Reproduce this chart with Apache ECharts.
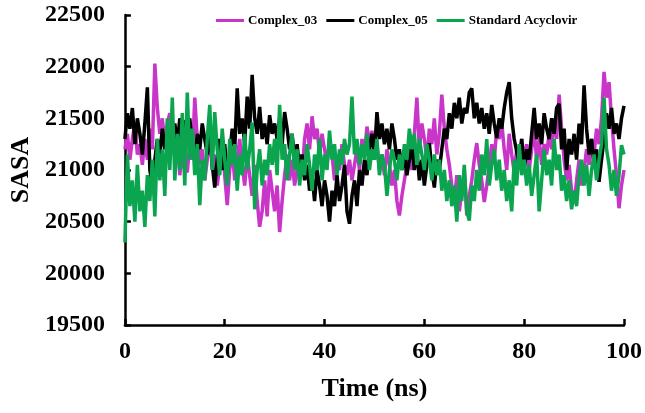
<!DOCTYPE html>
<html>
<head>
<meta charset="utf-8">
<script src="https://cdn.jsdelivr.net/npm/echarts@6/dist/echarts.min.js"></script>
<style>html,body{margin:0;padding:0;background:#fff}#c{width:645px;height:413px}</style>
</head>
<body>
<div id="c"></div>
<script>
const seriesNames = ['Complex_03', 'Complex_05', 'Standard Acyclovir'];
const seriesColors = ['#C935C9', '#000000', '#0BA550'];
const timeStep = 0.5;
const xTicks = [0, 20, 40, 60, 80, 100];
const yTicks = [19500, 20000, 20500, 21000, 21500, 22000, 22500];

const complex03 = [
21200,21350,21100,21300,21450,21150,21250,21050,21300,21100,
21400,21200,22030,21600,21350,21500,21250,21450,21550,21300,
21200,21350,20950,21150,21000,20980,21250,21100,21700,21300,
21050,21200,20900,21100,21350,21000,21150,20850,21050,21250,
20950,20660,21000,21200,20900,21100,21300,21050,20850,21150,
20950,20750,21050,20700,20450,20600,20900,20550,21000,20800,
20600,20850,20400,20700,20950,21150,20900,21100,20850,21000,
21150,20950,21300,21450,21200,21520,21300,21400,21150,21350,
21200,21050,21300,21150,20900,21100,21000,21250,21050,20950,
21100,20900,21050,21200,21000,21300,21150,21420,21250,21380,
21100,21250,21000,21150,20950,21200,21050,20850,21000,20700,
20560,20750,20900,21050,21200,21000,21350,21700,21200,21450,
21300,21100,21400,21250,21500,21150,21350,21730,21400,21200,
21050,20850,20700,20950,20600,20800,21000,20560,20750,20900,
21100,21260,21050,20900,20690,20850,21050,21250,21100,21400,
21300,21460,21200,21000,21350,21150,20980,21200,21050,21300,
21100,21250,21000,21200,21400,21100,21300,21050,21250,21150,
21350,21200,21500,21300,21730,21400,21100,20900,21050,20800,
20680,20900,21100,20850,21000,21200,21050,21300,21150,21400,
21250,21500,21950,21700,21850,21500,21200,20950,20630,20850,
21000];

const complex05 = [
21300,21550,21400,21600,21250,21500,21350,21150,21450,21800,
21000,20850,21100,21300,21150,21400,21200,21350,21100,21300,
21450,21250,21500,21350,21480,21300,21500,21250,21100,21350,
21200,21450,21300,21150,21400,21050,20830,21100,21300,21000,
21250,20950,21150,21400,21200,21790,21350,21500,21250,21710,
21400,21920,21500,21350,21610,21300,21450,21250,21530,21350,
21450,21300,21500,21250,21560,21400,21200,21350,21100,21250,
21000,21150,20900,21050,20800,20950,20700,21000,20850,20650,
20900,20750,20500,20800,20650,20950,20700,20850,21050,20600,
20480,20750,20900,20650,21000,20850,21100,20950,21200,21350,
21150,21560,21300,21450,21250,21400,21200,21450,21300,21100,
21200,21000,21150,20950,21100,21250,21000,21200,20900,21100,
20850,21050,21260,21000,20830,21100,21000,21200,21400,21300,
21550,21400,21650,21500,21700,21450,21600,21550,21750,21790,
21500,21650,21450,21600,21400,21550,21350,21630,21450,21310,
21500,21400,21600,21750,21850,21500,21300,21180,21050,21300,
21000,21200,21100,21350,21600,21300,21450,21250,21550,21400,
21300,21500,21350,21600,21640,21200,21400,21000,21300,21150,
21350,21100,21450,21250,21820,21400,21150,21300,21050,21200,
20885,21100,21300,21550,21400,21600,21350,21450,21300,21500,
21620];

const acyclovir = [
20300,21150,20650,20900,20500,21050,20600,20800,20450,20950,
20700,21100,20550,21300,20900,21200,20750,21500,21000,21700,
20900,21350,21000,21550,20850,21750,21100,21400,20950,21250,
20660,21100,20900,21300,21630,21000,21560,21200,20950,21400,
21100,20850,21300,21050,21250,20800,21150,20950,21350,21000,
21200,21460,20620,21000,21200,20850,21100,20950,21250,21050,
21300,20950,21630,21100,21250,20900,21150,21350,21000,21200,
20850,21100,20950,21250,21050,20800,21150,21000,21300,20900,
21150,21000,21380,21100,21250,20950,21200,21050,21300,21150,
21250,21710,21150,21300,21050,21250,21100,21350,21000,21200,
21100,21300,20950,21150,21050,20750,21000,21200,21100,20900,
21150,21000,21250,21100,21400,21200,21350,21050,21300,21150,
21000,21250,21100,20900,21150,20950,21100,20800,21000,20700,
20900,20650,20850,20500,20950,20700,21050,20600,20510,20850,
20700,21000,20800,21150,20950,21300,20850,21050,21200,20900,
21100,20800,21000,20700,20900,20600,21100,20850,21250,20950,
21100,20850,21050,20750,20950,21150,20600,20900,21200,20950,
21100,20850,21300,21000,21150,20800,20950,20700,20900,20620,
20800,20650,20950,21100,20850,21050,20750,21000,21150,20900,
21100,21250,21700,21200,21050,20800,21000,20750,20950,21240,
21150];

const allValues = [complex03, complex05, acyclovir];
const FONT = '"Liberation Serif","Times New Roman",serif';

const chart = echarts.init(document.getElementById('c'));
chart.setOption({
  animation: false,
  backgroundColor: '#ffffff',
  legend: {
    top: 9, left: 211,
    itemWidth: 28, itemHeight: 3, itemGap: 9,
    icon: 'rect',
    textStyle: { fontFamily: FONT, fontWeight: 'bold', fontSize: 13, color: '#000', padding: [0,0,0,-1] },
    data: seriesNames
  },
  grid: { left: 123, right: 21, top: 15, bottom: 88, containLabel: false },
  xAxis: {
    type: 'value', min: 0, max: 100, interval: 20,
    name: 'Time (ns)', nameLocation: 'middle', nameGap: 51,
    nameTextStyle: { fontFamily: FONT, fontWeight: 'bold', fontSize: 26, color: '#000' },
    axisLine: { onZero: false, lineStyle: { color: '#000', width: 2.5 } },
    axisTick: { inside: true, length: 6, lineStyle: { color: '#000', width: 2.5 } },
    axisLabel: { margin: 15, fontFamily: FONT, fontWeight: 'bold', fontSize: 24, color: '#000',
      formatter: v => xTicks.includes(v) ? String(v) : '' },
    splitLine: { show: false }
  },
  yAxis: {
    type: 'value', min: 19500, max: 22500, interval: 500,
    name: 'SASA', nameLocation: 'middle', nameGap: 88,
    nameTextStyle: { fontFamily: FONT, fontWeight: 'bold', fontSize: 26, color: '#000' },
    axisLine: { show: true, lineStyle: { color: '#000', width: 2.5 } },
    axisTick: { show: true, inside: true, length: 6, lineStyle: { color: '#000', width: 2.5 } },
    axisLabel: { margin: 20, fontFamily: FONT, fontWeight: 'bold', fontSize: 24, color: '#000',
      formatter: v => yTicks.includes(v) ? String(v) : '' },
    splitLine: { show: false }
  },
  series: seriesNames.map((name, k) => ({
    name: name,
    type: 'line',
    showSymbol: false,
    symbol: 'none',
    color: seriesColors[k],
    lineStyle: { width: 3.5, color: seriesColors[k] },
    data: allValues[k].map((v, i) => [i * timeStep, v]),
    z: 2 + k
  }))
});
</script>
</body>
</html>
